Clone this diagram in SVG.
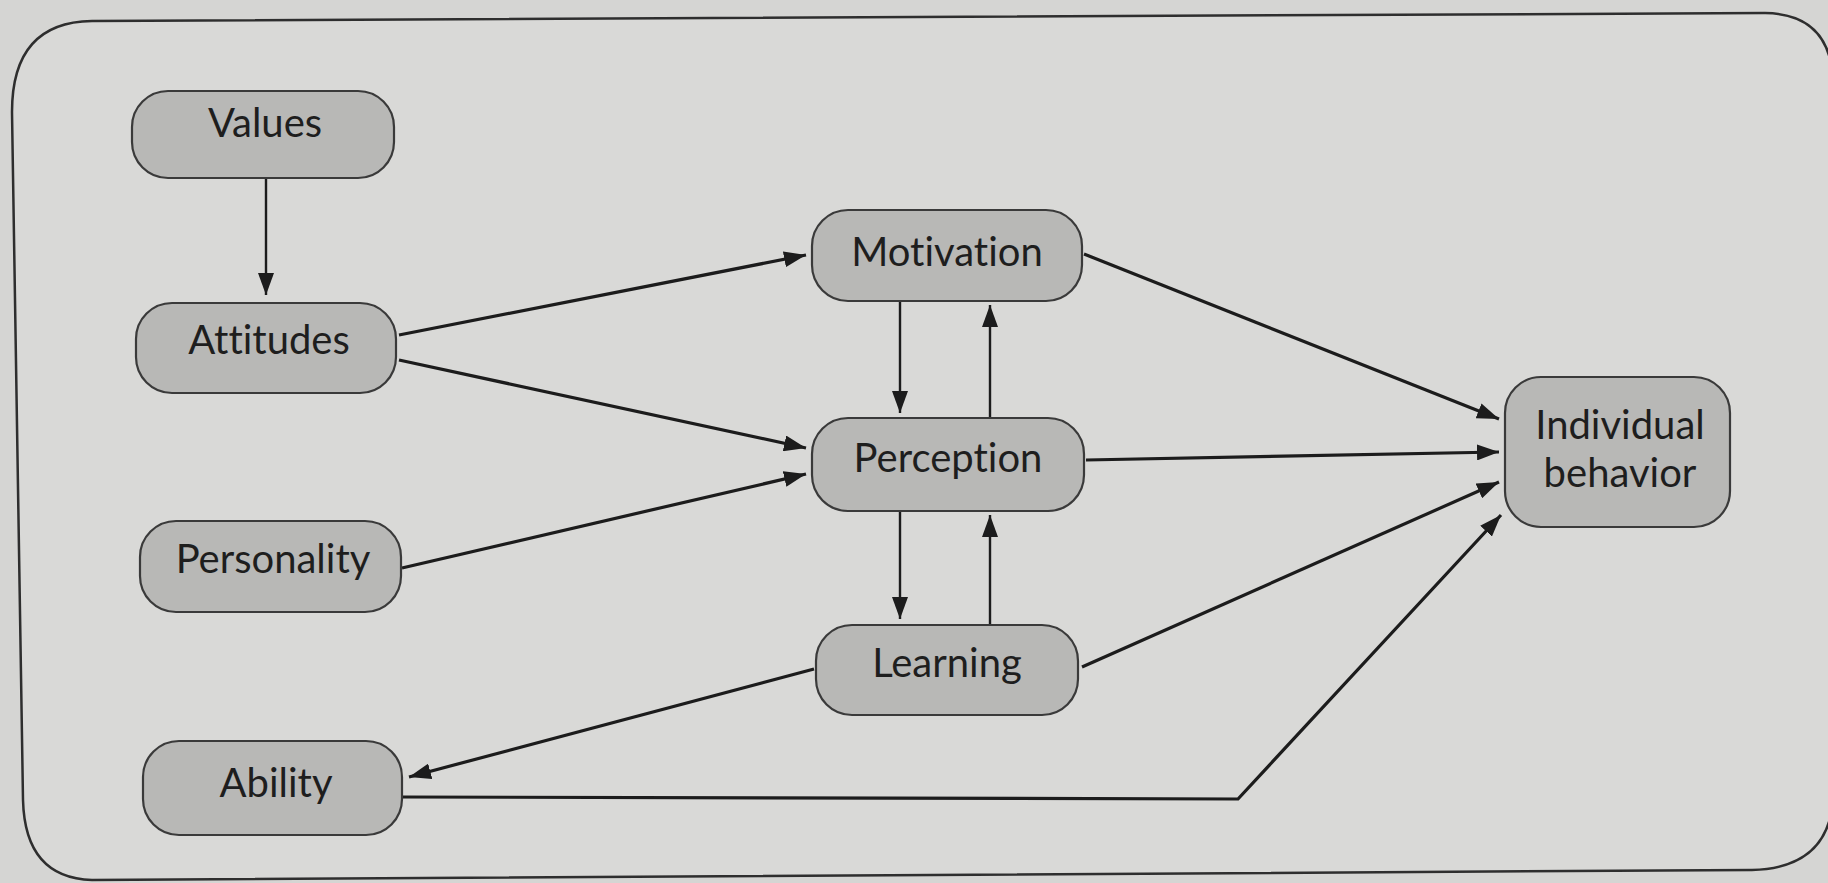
<svg xmlns="http://www.w3.org/2000/svg" width="1828" height="883" viewBox="0 0 1828 883">
  <style>
    .node rect { fill: #b8b8b6; stroke: #3a3a3a; stroke-width: 2.2; }
    .node text { font-family: Lato, "Open Sans", "Liberation Sans", sans-serif; font-size: 40px; fill: #1e1e1e; text-anchor: middle; font-variant-ligatures: none; font-feature-settings: "liga" 0, "clig" 0; }
    .conn { fill: none; stroke: #1c1c1c; stroke-width: 3.2; }
    .thin { stroke-width: 2.4; }
  </style>
  <defs>
    <marker id="ah" markerUnits="userSpaceOnUse" markerWidth="22" markerHeight="16" refX="22" refY="8" orient="auto">
      <path d="M0,0 L22,8 L0,16 Z" fill="#1c1c1c"/>
    </marker>
  </defs>
  <rect x="0" y="0" width="1828" height="883" fill="#d5d5d3"/>
  <path id="frame" d="M12,112 Q12,22 92,21 L1765,13 Q1830,14 1833,80 L1833,800 Q1828,868 1752,870 L92,880 Q25,878 23,800 Z" fill="#d9d9d7" stroke="#2e2e2e" stroke-width="2.5"/>

  <g id="connectors">
    <line class="conn thin" x1="266" y1="178" x2="266" y2="295" marker-end="url(#ah)"/>
    <line class="conn" x1="399" y1="335" x2="806" y2="255" marker-end="url(#ah)"/>
    <line class="conn" x1="399" y1="360" x2="806" y2="448" marker-end="url(#ah)"/>
    <line class="conn" x1="402" y1="568" x2="806" y2="474" marker-end="url(#ah)"/>
    <line class="conn thin" x1="900" y1="301" x2="900" y2="413" marker-end="url(#ah)"/>
    <line class="conn thin" x1="990" y1="417" x2="990" y2="305" marker-end="url(#ah)"/>
    <line class="conn thin" x1="900" y1="511" x2="900" y2="619" marker-end="url(#ah)"/>
    <line class="conn thin" x1="990" y1="625" x2="990" y2="515" marker-end="url(#ah)"/>
    <line class="conn" x1="1084" y1="254" x2="1499" y2="419" marker-end="url(#ah)"/>
    <line class="conn" x1="1086" y1="460" x2="1499" y2="452" marker-end="url(#ah)"/>
    <line class="conn" x1="1082" y1="667" x2="1499" y2="482" marker-end="url(#ah)"/>
    <line class="conn" x1="814" y1="669" x2="409" y2="777" marker-end="url(#ah)"/>
    <polyline class="conn" points="403,797 1238,799 1501,515" marker-end="url(#ah)"/>
  </g>

  <g id="values" class="node">
    <rect x="132" y="91" width="262" height="87" rx="36" ry="36"/>
    <text x="265" y="137">Values</text>
  </g>
  <g id="attitudes" class="node">
    <rect x="136" y="303" width="260" height="90" rx="36" ry="36"/>
    <text x="269" y="354">Attitudes</text>
  </g>
  <g id="personality" class="node">
    <rect x="140" y="521" width="261" height="91" rx="36" ry="36"/>
    <text x="273" y="573">Personality</text>
  </g>
  <g id="ability" class="node">
    <rect x="143" y="741" width="259" height="94" rx="36" ry="36"/>
    <text x="276" y="797">Ability</text>
  </g>
  <g id="motivation" class="node">
    <rect x="812" y="210" width="270" height="91" rx="36" ry="36"/>
    <text x="947" y="266">Motivation</text>
  </g>
  <g id="perception" class="node">
    <rect x="812" y="418" width="272" height="93" rx="36" ry="36"/>
    <text x="948" y="472">Perception</text>
  </g>
  <g id="learning" class="node">
    <rect x="816" y="625" width="262" height="90" rx="36" ry="36"/>
    <text x="947" y="677">Learning</text>
  </g>
  <g id="individual-behavior" class="node">
    <rect x="1505" y="377" width="225" height="150" rx="36" ry="36"/>
    <text x="1620" y="439">Individual</text>
    <text x="1620" y="487">behavior</text>
  </g>
</svg>
